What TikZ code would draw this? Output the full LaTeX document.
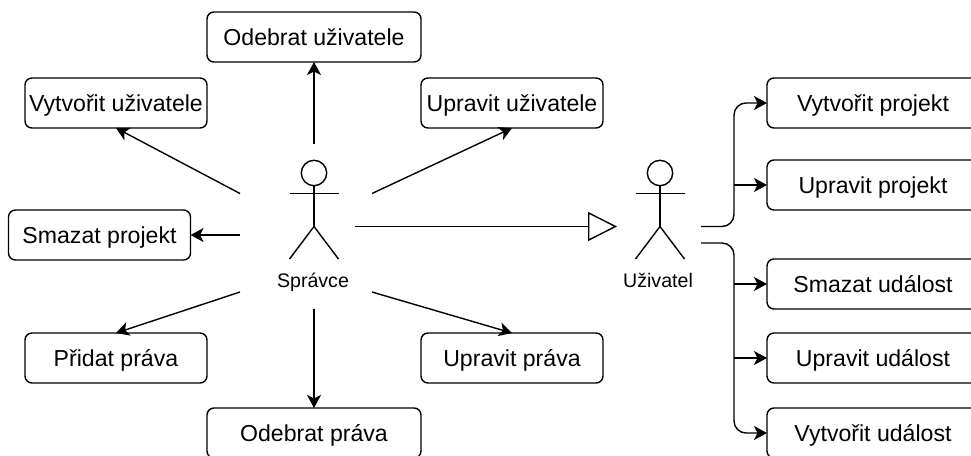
\documentclass[tikz,border=0pt]{standalone}
\usepackage{fontspec}
\setmainfont{Liberation Sans}
\usepackage{xcolor}
\usepackage{tikz}
\usetikzlibrary{arrows.meta}
\tikzset{
	ucase/.style={draw, line width=1.4pt, rounded corners=7pt, minimum height=50pt, outer sep=0pt, inner sep=0pt, text height=17pt, text depth=0pt, font=\fontsize{23.1}{26}\selectfont},
	actorlabel/.style={inner sep=0pt, text height=13pt, text depth=0pt, font=\fontsize{19.6}{23}\selectfont},
	link/.style={line width=1.4pt, -{Stealth[length=13pt,width=14pt,inset=3.5pt]}},
	inherit/.style={line width=1.4pt, -{Triangle[open,length=29pt,width=29pt]}}
}

\begin{document}
\begin{tikzpicture}[x=1pt,y=-1pt]
	\useasboundingbox (0,0) rectangle (971,455);
	\clip (0,0) rectangle (971,455);
	%left use cases
	\foreach \nm/\x/\y/\w/\txt in {oduziv/314/37/214/Odebrat uživatele, vyuziv/116/103/182/Vytvořit uživatele, upuziv/512/103/182/Upravit uživatele, smproj/99.5/235/182/Smazat projekt, prprava/116/358/182/Přidat práva, upprava/512/358/182/Upravit práva, odprava/314/433/214/Odebrat práva}
	\node[ucase, minimum width=\w pt] (\nm) at (\x,\y) {\txt};
	%right use cases
	\foreach \nm/\y/\txt in {vyproj/103/Vytvořit projekt, upproj/185/Upravit projekt, smudal/284/Smazat událost, upudal/358/Upravit událost, vyudal/433/Vytvořit událost}
	\node[ucase, minimum width=212pt] (\nm) at (873,\y) {\txt};
	%actors
	\foreach \nm/\x/\lx/\txt in {spravce/314/313/Správce, uzivatel/660/658/Uživatel} {
		\draw[line width=1.4pt] (\x,173) circle (12.7pt);
		\draw[line width=1.4pt] (\x,185.7) -- (\x,226.5);
		\draw[line width=1.4pt] (\x-24.5,193.5) -- (\x+24.5,193.5);
		\draw[line width=1.4pt] (\x-24.5,259) -- (\x,226.5) -- (\x+24.5,259);
		\node[actorlabel] (\nm) at (\lx,281) {\txt};
	}
	%free ends round the actors
	\coordinate (spNW) at (240,193.5);
	\coordinate (spN) at (314,144);
	\coordinate (spNE) at (372,193.5);
	\coordinate (spW) at (240,235);
	\coordinate (spSW) at (240,292);
	\coordinate (spS) at (314,309);
	\coordinate (spSE) at (372,292);
	\coordinate (spE) at (355,226.5);
	\coordinate (uzW) at (617,226.5);
	\coordinate (uzUp) at (701,226.5);
	\coordinate (uzDown) at (701,243);
	\coordinate (bus) at (734,243);
	%Spravce
	\draw[link] (spNW) -- (vyuziv.south);
	\draw[link] (spN) -- (oduziv.south);
	\draw[link] (spNE) -- (upuziv.south);
	\draw[link] (spW) -- (smproj.east);
	\draw[link] (spSW) -- (prprava.north);
	\draw[link] (spS) -- (odprava.north);
	\draw[link] (spSE) -- (upprava.north);
	\draw[inherit] (spE) -- (uzW);
	%Uzivatel
	\draw[link, rounded corners=12pt] (uzUp) -- (bus|-uzUp) -- (bus|-vyproj.west) -- (vyproj.west);
	\draw[link] (bus|-upproj.west) -- (upproj.west);
	\draw[link, rounded corners=12pt] (uzDown) -- (bus|-uzDown) -- (bus|-vyudal.west) -- (vyudal.west);
	\draw[link] (bus|-smudal.west) -- (smudal.west);
	\draw[link] (bus|-upudal.west) -- (upudal.west);
\end{tikzpicture}
\end{document}
